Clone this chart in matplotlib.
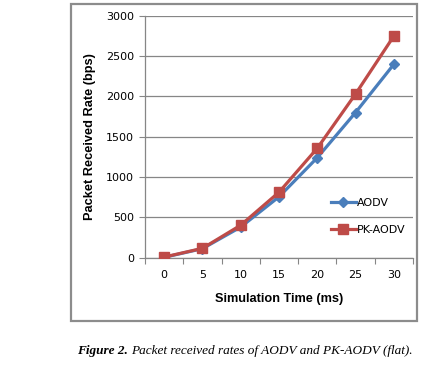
import matplotlib
matplotlib.use('Agg')
import matplotlib.pyplot as plt
from matplotlib.patches import Rectangle

# data
times = ['0', '5', '10', '15', '20', '25', '30']
aodv = [5, 112, 380, 755, 1240, 1800, 2398]
pk_aodv = [8, 116, 403, 812, 1357, 2030, 2748]
y_ticks = [0, 500, 1000, 1500, 2000, 2500, 3000]

blue = '#4a7ebb'
red = '#be4b48'
grid_col = '#868686'

fig = plt.figure(figsize=(4.45, 3.66), dpi=100)
ax = fig.add_axes([145 / 445, 1 - 257.7 / 366, 268 / 445, 242 / 366])

x = list(range(len(times)))
ax.plot(x, aodv, color=blue, lw=2.3, marker='D', ms=5, mfc=blue, mec=blue, label='AODV', zorder=3)
ax.plot(x, pk_aodv, color=red, lw=2.3, marker='s', ms=6.8, mfc=red, mec=red, label='PK-AODV', zorder=4)

ax.set_xlim(-0.5, len(times) - 0.5)
ax.set_ylim(0, 3000)
ax.set_yticks(y_ticks)
ax.set_yticklabels([str(v) for v in y_ticks], fontsize=8)
ax.yaxis.grid(True, color=grid_col, lw=0.9)
ax.set_axisbelow(True)

# category axis: tick marks between categories, labels centred
ax.set_xticks([i - 0.5 for i in range(len(times) + 1)])
ax.set_xticklabels([])
ax.set_xticks(x, minor=True)
ax.set_xticklabels(times, minor=True, fontsize=8)
ax.tick_params(axis='x', which='major', length=4, color=grid_col, direction='out')
ax.tick_params(axis='x', which='minor', length=0, pad=9)
ax.tick_params(axis='y', length=4, color=grid_col, pad=4)

for s in ['top', 'right']:
    ax.spines[s].set_visible(False)
for s in ['left', 'bottom']:
    ax.spines[s].set_color(grid_col)
    ax.spines[s].set_linewidth(0.9)

ax.set_xlabel('Simulation Time (ms)', fontsize=9.2, fontweight='bold', family='Liberation Sans', labelpad=9)
ax.set_ylabel('Packet Received Rate (bps)', fontsize=9.2, fontweight='bold', family='Liberation Sans', labelpad=7)

leg = ax.legend(loc='center left', bbox_to_anchor=(0.655, 0.17), frameon=False, fontsize=8,
                handlelength=2.3, handletextpad=0.1, labelspacing=1.5)

# outer grey frame around the chart
fig.patches.append(Rectangle((71 / 445, 1 - 321 / 366), 346 / 445, 317 / 366, transform=fig.transFigure,
                             fill=False, edgecolor='#8c8c8c', lw=1.6))

# caption
t1 = fig.text(77 / 445, 1 - 354 / 366, 'Figure 2.', family='Liberation Serif', style='italic',
              fontweight='bold', fontsize=9.5, va='baseline')
fig.canvas.draw()
bb = t1.get_window_extent()
fig.text(bb.x1 / fig.bbox.width + 0.008, 1 - 354 / 366, 'Packet received rates of AODV and PK-AODV (flat).',
         family='Liberation Serif', style='italic', fontsize=9.5, va='baseline')

fig.savefig('out.png', dpi=100)
